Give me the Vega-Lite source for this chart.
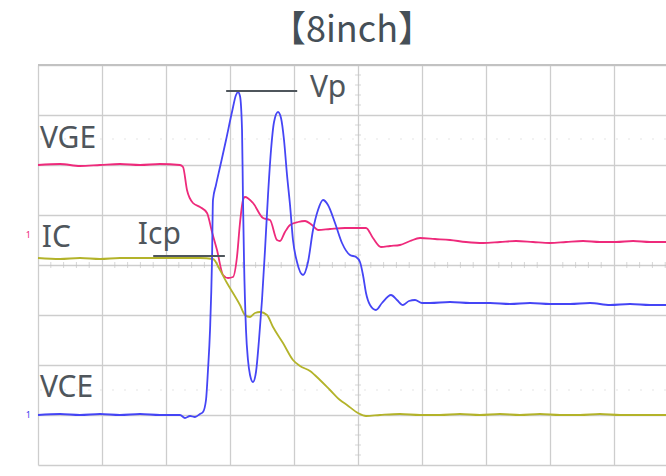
{
  "$schema": "https://vega.github.io/schema/vega-lite/v6.json",
  "autosize": {"type": "none"},
  "width": 628,
  "height": 400,
  "padding": {"left": 38, "top": 65, "right": 0, "bottom": 11},
  "background": "white",
  "title": {"text": "【8inch】", "fontSize": 36, "font": "Noto Sans CJK JP", "fontWeight": "normal", "color": "#454f57", "anchor": "middle", "offset": 14},
  "config": {"view": {"stroke": null}},
  "datasets": {
    "traces": [
      {"ch": "VGE", "t": 0, "v": 6.0}, {"ch": "VGE", "t": 0.344, "v": 6.02}, {"ch": "VGE", "t": 0.656, "v": 5.98}, {"ch": "VGE", "t": 0.969, "v": 6.0}, {"ch": "VGE", "t": 1.281, "v": 6.02}, {"ch": "VGE", "t": 1.594, "v": 6.0}, {"ch": "VGE", "t": 1.906, "v": 6.02}, {"ch": "VGE", "t": 2.219, "v": 6.0}, {"ch": "VGE", "t": 2.266, "v": 5.96}, {"ch": "VGE", "t": 2.328, "v": 5.5}, {"ch": "VGE", "t": 2.422, "v": 5.24}, {"ch": "VGE", "t": 2.531, "v": 5.16}, {"ch": "VGE", "t": 2.641, "v": 5.04}, {"ch": "VGE", "t": 2.719, "v": 4.66}, {"ch": "VGE", "t": 2.797, "v": 4.3}, {"ch": "VGE", "t": 2.891, "v": 3.8}, {"ch": "VGE", "t": 2.969, "v": 3.74}, {"ch": "VGE", "t": 3.047, "v": 3.76}, {"ch": "VGE", "t": 3.109, "v": 4.16}, {"ch": "VGE", "t": 3.156, "v": 4.84}, {"ch": "VGE", "t": 3.203, "v": 5.3}, {"ch": "VGE", "t": 3.234, "v": 5.36}, {"ch": "VGE", "t": 3.359, "v": 5.24}, {"ch": "VGE", "t": 3.516, "v": 4.94}, {"ch": "VGE", "t": 3.625, "v": 4.9}, {"ch": "VGE", "t": 3.734, "v": 4.5}, {"ch": "VGE", "t": 3.781, "v": 4.48}, {"ch": "VGE", "t": 3.859, "v": 4.66}, {"ch": "VGE", "t": 3.938, "v": 4.8}, {"ch": "VGE", "t": 4.063, "v": 4.86}, {"ch": "VGE", "t": 4.172, "v": 4.88}, {"ch": "VGE", "t": 4.281, "v": 4.8}, {"ch": "VGE", "t": 4.375, "v": 4.7}, {"ch": "VGE", "t": 4.563, "v": 4.72}, {"ch": "VGE", "t": 4.797, "v": 4.74}, {"ch": "VGE", "t": 5.031, "v": 4.74}, {"ch": "VGE", "t": 5.125, "v": 4.74}, {"ch": "VGE", "t": 5.234, "v": 4.54}, {"ch": "VGE", "t": 5.359, "v": 4.36}, {"ch": "VGE", "t": 5.5, "v": 4.38}, {"ch": "VGE", "t": 5.656, "v": 4.4}, {"ch": "VGE", "t": 5.813, "v": 4.48}, {"ch": "VGE", "t": 5.969, "v": 4.54}, {"ch": "VGE", "t": 6.203, "v": 4.52}, {"ch": "VGE", "t": 6.438, "v": 4.5}, {"ch": "VGE", "t": 6.688, "v": 4.46}, {"ch": "VGE", "t": 6.953, "v": 4.44}, {"ch": "VGE", "t": 7.219, "v": 4.46}, {"ch": "VGE", "t": 7.469, "v": 4.48}, {"ch": "VGE", "t": 7.734, "v": 4.46}, {"ch": "VGE", "t": 8.0, "v": 4.44}, {"ch": "VGE", "t": 8.25, "v": 4.46}, {"ch": "VGE", "t": 8.516, "v": 4.48}, {"ch": "VGE", "t": 8.781, "v": 4.46}, {"ch": "VGE", "t": 9.031, "v": 4.46}, {"ch": "VGE", "t": 9.297, "v": 4.48}, {"ch": "VGE", "t": 9.563, "v": 4.46}, {"ch": "VGE", "t": 9.8125, "v": 4.46},

      {"ch": "IC", "t": 0, "v": 4.14}, {"ch": "IC", "t": 0.344, "v": 4.12}, {"ch": "IC", "t": 0.656, "v": 4.14}, {"ch": "IC", "t": 0.969, "v": 4.12}, {"ch": "IC", "t": 1.281, "v": 4.14}, {"ch": "IC", "t": 1.594, "v": 4.14}, {"ch": "IC", "t": 1.906, "v": 4.14}, {"ch": "IC", "t": 2.219, "v": 4.14}, {"ch": "IC", "t": 2.531, "v": 4.14}, {"ch": "IC", "t": 2.734, "v": 4.12}, {"ch": "IC", "t": 2.844, "v": 3.9}, {"ch": "IC", "t": 2.953, "v": 3.64}, {"ch": "IC", "t": 3.047, "v": 3.44}, {"ch": "IC", "t": 3.156, "v": 3.2}, {"ch": "IC", "t": 3.234, "v": 3.0}, {"ch": "IC", "t": 3.313, "v": 2.96}, {"ch": "IC", "t": 3.391, "v": 3.04}, {"ch": "IC", "t": 3.469, "v": 3.06}, {"ch": "IC", "t": 3.578, "v": 3.0}, {"ch": "IC", "t": 3.672, "v": 2.76}, {"ch": "IC", "t": 3.828, "v": 2.44}, {"ch": "IC", "t": 3.984, "v": 2.1}, {"ch": "IC", "t": 4.094, "v": 1.98}, {"ch": "IC", "t": 4.25, "v": 1.88}, {"ch": "IC", "t": 4.406, "v": 1.7}, {"ch": "IC", "t": 4.563, "v": 1.5}, {"ch": "IC", "t": 4.719, "v": 1.3}, {"ch": "IC", "t": 4.828, "v": 1.2}, {"ch": "IC", "t": 5.0, "v": 1.04}, {"ch": "IC", "t": 5.125, "v": 0.98}, {"ch": "IC", "t": 5.344, "v": 1.0}, {"ch": "IC", "t": 5.656, "v": 1.02}, {"ch": "IC", "t": 5.969, "v": 1.0}, {"ch": "IC", "t": 6.281, "v": 1.0}, {"ch": "IC", "t": 6.594, "v": 1.02}, {"ch": "IC", "t": 6.906, "v": 1.0}, {"ch": "IC", "t": 7.219, "v": 1.02}, {"ch": "IC", "t": 7.531, "v": 1.0}, {"ch": "IC", "t": 7.844, "v": 1.02}, {"ch": "IC", "t": 8.156, "v": 1.0}, {"ch": "IC", "t": 8.469, "v": 1.0}, {"ch": "IC", "t": 8.781, "v": 1.02}, {"ch": "IC", "t": 9.094, "v": 1.0}, {"ch": "IC", "t": 9.406, "v": 1.0}, {"ch": "IC", "t": 9.8125, "v": 1.0},

      {"ch": "VCE", "t": 0, "v": 1.0}, {"ch": "VCE", "t": 0.344, "v": 1.02}, {"ch": "VCE", "t": 0.656, "v": 1.0}, {"ch": "VCE", "t": 0.969, "v": 1.02}, {"ch": "VCE", "t": 1.281, "v": 1.0}, {"ch": "VCE", "t": 1.594, "v": 1.02}, {"ch": "VCE", "t": 1.906, "v": 1.0}, {"ch": "VCE", "t": 2.219, "v": 1.0}, {"ch": "VCE", "t": 2.297, "v": 0.94}, {"ch": "VCE", "t": 2.375, "v": 0.98}, {"ch": "VCE", "t": 2.453, "v": 0.96}, {"ch": "VCE", "t": 2.531, "v": 1.02}, {"ch": "VCE", "t": 2.578, "v": 1.06}, {"ch": "VCE", "t": 2.625, "v": 1.3}, {"ch": "VCE", "t": 2.656, "v": 1.9}, {"ch": "VCE", "t": 2.688, "v": 2.7}, {"ch": "VCE", "t": 2.719, "v": 4.1}, {"ch": "VCE", "t": 2.734, "v": 5.3}, {"ch": "VCE", "t": 2.781, "v": 5.6}, {"ch": "VCE", "t": 2.844, "v": 5.96}, {"ch": "VCE", "t": 2.938, "v": 6.5}, {"ch": "VCE", "t": 3.031, "v": 7.06}, {"ch": "VCE", "t": 3.094, "v": 7.4}, {"ch": "VCE", "t": 3.125, "v": 7.46}, {"ch": "VCE", "t": 3.156, "v": 7.38}, {"ch": "VCE", "t": 3.188, "v": 6.7}, {"ch": "VCE", "t": 3.203, "v": 5.3}, {"ch": "VCE", "t": 3.219, "v": 4.1}, {"ch": "VCE", "t": 3.25, "v": 2.7}, {"ch": "VCE", "t": 3.281, "v": 2.1}, {"ch": "VCE", "t": 3.313, "v": 1.8}, {"ch": "VCE", "t": 3.359, "v": 1.66}, {"ch": "VCE", "t": 3.406, "v": 1.86}, {"ch": "VCE", "t": 3.453, "v": 2.5}, {"ch": "VCE", "t": 3.5, "v": 3.3}, {"ch": "VCE", "t": 3.547, "v": 4.3}, {"ch": "VCE", "t": 3.594, "v": 5.4}, {"ch": "VCE", "t": 3.641, "v": 6.3}, {"ch": "VCE", "t": 3.688, "v": 6.86}, {"ch": "VCE", "t": 3.75, "v": 7.06}, {"ch": "VCE", "t": 3.797, "v": 6.94}, {"ch": "VCE", "t": 3.844, "v": 6.5}, {"ch": "VCE", "t": 3.891, "v": 5.8}, {"ch": "VCE", "t": 3.938, "v": 5.2}, {"ch": "VCE", "t": 3.984, "v": 4.5}, {"ch": "VCE", "t": 4.047, "v": 4.06}, {"ch": "VCE", "t": 4.141, "v": 3.8}, {"ch": "VCE", "t": 4.219, "v": 4.06}, {"ch": "VCE", "t": 4.297, "v": 4.7}, {"ch": "VCE", "t": 4.375, "v": 5.1}, {"ch": "VCE", "t": 4.453, "v": 5.3}, {"ch": "VCE", "t": 4.531, "v": 5.2}, {"ch": "VCE", "t": 4.641, "v": 4.84}, {"ch": "VCE", "t": 4.75, "v": 4.44}, {"ch": "VCE", "t": 4.875, "v": 4.2}, {"ch": "VCE", "t": 4.969, "v": 4.16}, {"ch": "VCE", "t": 5.031, "v": 4.06}, {"ch": "VCE", "t": 5.078, "v": 3.8}, {"ch": "VCE", "t": 5.125, "v": 3.44}, {"ch": "VCE", "t": 5.188, "v": 3.2}, {"ch": "VCE", "t": 5.281, "v": 3.1}, {"ch": "VCE", "t": 5.375, "v": 3.24}, {"ch": "VCE", "t": 5.516, "v": 3.4}, {"ch": "VCE", "t": 5.609, "v": 3.3}, {"ch": "VCE", "t": 5.703, "v": 3.2}, {"ch": "VCE", "t": 5.797, "v": 3.28}, {"ch": "VCE", "t": 5.891, "v": 3.3}, {"ch": "VCE", "t": 6.0, "v": 3.24}, {"ch": "VCE", "t": 6.125, "v": 3.24}, {"ch": "VCE", "t": 6.438, "v": 3.26}, {"ch": "VCE", "t": 6.75, "v": 3.24}, {"ch": "VCE", "t": 7.063, "v": 3.24}, {"ch": "VCE", "t": 7.375, "v": 3.22}, {"ch": "VCE", "t": 7.688, "v": 3.24}, {"ch": "VCE", "t": 8.0, "v": 3.22}, {"ch": "VCE", "t": 8.313, "v": 3.22}, {"ch": "VCE", "t": 8.625, "v": 3.24}, {"ch": "VCE", "t": 8.938, "v": 3.2}, {"ch": "VCE", "t": 9.25, "v": 3.22}, {"ch": "VCE", "t": 9.563, "v": 3.2}, {"ch": "VCE", "t": 9.8125, "v": 3.2}
    ],
    "labels": [
      {"label": "VGE", "t": 0.03, "v": 6.34},
      {"label": "IC", "t": 0.06, "v": 4.36},
      {"label": "Icp", "t": 1.56, "v": 4.42},
      {"label": "Vp", "t": 4.25, "v": 7.36},
      {"label": "VCE", "t": 0.03, "v": 1.36}
    ],
    "markers": [
      {"name": "Vp", "t1": 2.94, "t2": 4.05, "v": 7.48},
      {"name": "Icp", "t1": 1.8, "t2": 2.92, "v": 4.18}
    ],
    "cursors": [{"v": 6.52}, {"v": 1.5}],
    "vticks": [
      {"t": 5, "v": 0.2}, {"t": 5, "v": 0.4}, {"t": 5, "v": 0.6}, {"t": 5, "v": 0.8}, {"t": 5, "v": 1.2}, {"t": 5, "v": 1.4}, {"t": 5, "v": 1.6}, {"t": 5, "v": 1.8}, {"t": 5, "v": 2.2}, {"t": 5, "v": 2.4}, {"t": 5, "v": 2.6}, {"t": 5, "v": 2.8}, {"t": 5, "v": 3.2}, {"t": 5, "v": 3.4}, {"t": 5, "v": 3.6}, {"t": 5, "v": 3.8}, {"t": 5, "v": 4.2}, {"t": 5, "v": 4.4}, {"t": 5, "v": 4.6}, {"t": 5, "v": 4.8}, {"t": 5, "v": 5.2}, {"t": 5, "v": 5.4}, {"t": 5, "v": 5.6}, {"t": 5, "v": 5.8}, {"t": 5, "v": 6.2}, {"t": 5, "v": 6.4}, {"t": 5, "v": 6.6}, {"t": 5, "v": 6.8}, {"t": 5, "v": 7.2}, {"t": 5, "v": 7.4}, {"t": 5, "v": 7.6}, {"t": 5, "v": 7.8}
    ],
    "hticks": [
      {"t": 0.2, "v": 4}, {"t": 0.4, "v": 4}, {"t": 0.6, "v": 4}, {"t": 0.8, "v": 4}, {"t": 1.2, "v": 4}, {"t": 1.4, "v": 4}, {"t": 1.6, "v": 4}, {"t": 1.8, "v": 4}, {"t": 2.2, "v": 4}, {"t": 2.4, "v": 4}, {"t": 2.6, "v": 4}, {"t": 2.8, "v": 4}, {"t": 3.2, "v": 4}, {"t": 3.4, "v": 4}, {"t": 3.6, "v": 4}, {"t": 3.8, "v": 4}, {"t": 4.2, "v": 4}, {"t": 4.4, "v": 4}, {"t": 4.6, "v": 4}, {"t": 4.8, "v": 4}, {"t": 5.2, "v": 4}, {"t": 5.4, "v": 4}, {"t": 5.6, "v": 4}, {"t": 5.8, "v": 4}, {"t": 6.2, "v": 4}, {"t": 6.4, "v": 4}, {"t": 6.6, "v": 4}, {"t": 6.8, "v": 4}, {"t": 7.2, "v": 4}, {"t": 7.4, "v": 4}, {"t": 7.6, "v": 4}, {"t": 7.8, "v": 4}, {"t": 8.2, "v": 4}, {"t": 8.4, "v": 4}, {"t": 8.6, "v": 4}, {"t": 8.8, "v": 4}, {"t": 9.2, "v": 4}, {"t": 9.4, "v": 4}, {"t": 9.6, "v": 4}, {"t": 9.8, "v": 4}
    ],
    "chmarks": [
      {"m": "1", "t": -0.15, "v": 4.6, "c": "#ee2a7b"},
      {"m": "1", "t": -0.15, "v": 1.0, "c": "#4040f0"}
    ],
    "frame": [{"v": 8}]
  },
  "layer": [
    {
      "data": {"name": "cursors"},
      "mark": {"type": "rule", "color": "#e6e6e6", "strokeDash": [2, 10], "strokeWidth": 1.2},
      "encoding": {
        "y": {"field": "v", "type": "quantitative", "scale": {"domain": [0, 8], "nice": false, "zero": false},
          "axis": {"values": [0, 1, 2, 3, 4, 5, 6, 7, 8], "grid": true, "gridColor": "#cdcdcd", "gridWidth": 1.3, "domain": false, "ticks": false, "labels": false, "title": null}}
      }
    },
    {
      "data": {"name": "frame"},
      "mark": {"type": "rule", "color": "#c2c2c2", "strokeWidth": 2.2},
      "encoding": {
        "y": {"field": "v", "type": "quantitative"}
      }
    },
    {
      "data": {"name": "vticks"},
      "mark": {"type": "tick", "orient": "horizontal", "size": 6, "thickness": 1, "color": "#c4c4c4"},
      "encoding": {
        "x": {"field": "t", "type": "quantitative", "scale": {"domain": [0, 9.8125], "nice": false, "zero": false},
          "axis": {"values": [0, 1, 2, 3, 4, 5, 6, 7, 8, 9], "grid": true, "gridColor": "#cdcdcd", "gridWidth": 1.3, "domain": false, "ticks": false, "labels": false, "title": null}},
        "y": {"field": "v", "type": "quantitative"}
      }
    },
    {
      "data": {"name": "hticks"},
      "mark": {"type": "tick", "orient": "vertical", "size": 6, "thickness": 1, "color": "#c4c4c4"},
      "encoding": {
        "x": {"field": "t", "type": "quantitative"},
        "y": {"field": "v", "type": "quantitative"}
      }
    },
    {
      "data": {"name": "traces"},
      "mark": {"type": "line", "strokeWidth": 1.8, "interpolate": "monotone"},
      "encoding": {
        "x": {"field": "t", "type": "quantitative"},
        "y": {"field": "v", "type": "quantitative"},
        "color": {"field": "ch", "type": "nominal", "scale": {"domain": ["VGE", "IC", "VCE"], "range": ["#ee2a7b", "#b3b32a", "#4545f5"]}, "legend": null},
        "order": {"field": "t", "type": "quantitative"}
      }
    },
    {
      "data": {"name": "markers"},
      "mark": {"type": "rule", "color": "#4f565c", "strokeWidth": 2},
      "encoding": {
        "x": {"field": "t1", "type": "quantitative"},
        "x2": {"field": "t2"},
        "y": {"field": "v", "type": "quantitative"}
      }
    },
    {
      "data": {"name": "labels"},
      "mark": {"type": "text", "align": "left", "baseline": "alphabetic", "fontSize": 30, "font": "Noto Sans", "color": "#4f565c"},
      "encoding": {
        "x": {"field": "t", "type": "quantitative"},
        "y": {"field": "v", "type": "quantitative"},
        "text": {"field": "label"}
      }
    },
    {
      "data": {"name": "chmarks"},
      "mark": {"type": "text", "align": "center", "baseline": "middle", "fontSize": 9, "font": "Noto Sans", "clip": false},
      "encoding": {
        "x": {"field": "t", "type": "quantitative"},
        "y": {"field": "v", "type": "quantitative"},
        "text": {"field": "m"},
        "color": {"field": "c", "type": "nominal", "scale": null}
      }
    }
  ]
}
